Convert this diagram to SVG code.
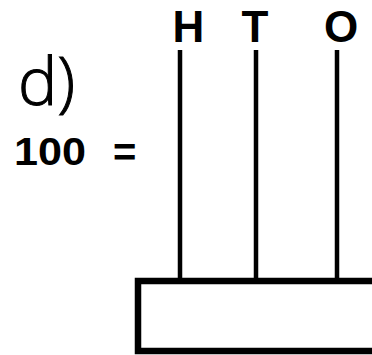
<svg xmlns="http://www.w3.org/2000/svg" width="372" height="355" viewBox="0 0 372 355">
<style>
.lbl{font-family:"Liberation Sans",Arial,sans-serif;font-weight:bold;fill:#000}
.thin{font-family:"Open Sans",sans-serif;font-weight:300;fill:#000;stroke:#000;stroke-width:1}
.rod{stroke:#000;stroke-width:4.5;fill:none}
</style>
<rect width="372" height="355" fill="#fff"/>
<text class="thin" x="18" y="105" font-size="66">d)</text>
<text class="lbl" x="14" y="165" font-size="39" textLength="72" lengthAdjust="spacingAndGlyphs">100</text>
<text class="lbl" x="113" y="166" font-size="40">=</text>
<g id="connectors">
<line class="rod" x1="180" y1="50" x2="180" y2="281"/>
<line class="rod" x1="256" y1="50" x2="256" y2="281"/>
<line class="rod" x1="337" y1="50" x2="337" y2="281"/>
</g>
<g id="H"><text class="lbl" x="188.5" y="42" font-size="44" text-anchor="middle">H</text></g>
<g id="T"><text class="lbl" x="255" y="42" font-size="44" text-anchor="middle">T</text></g>
<g id="O"><text class="lbl" x="341" y="42" font-size="44" text-anchor="middle">O</text></g>
<g id="base"><rect x="138" y="281" width="240" height="70" fill="none" stroke="#000" stroke-width="6.5"/></g>
</svg>
